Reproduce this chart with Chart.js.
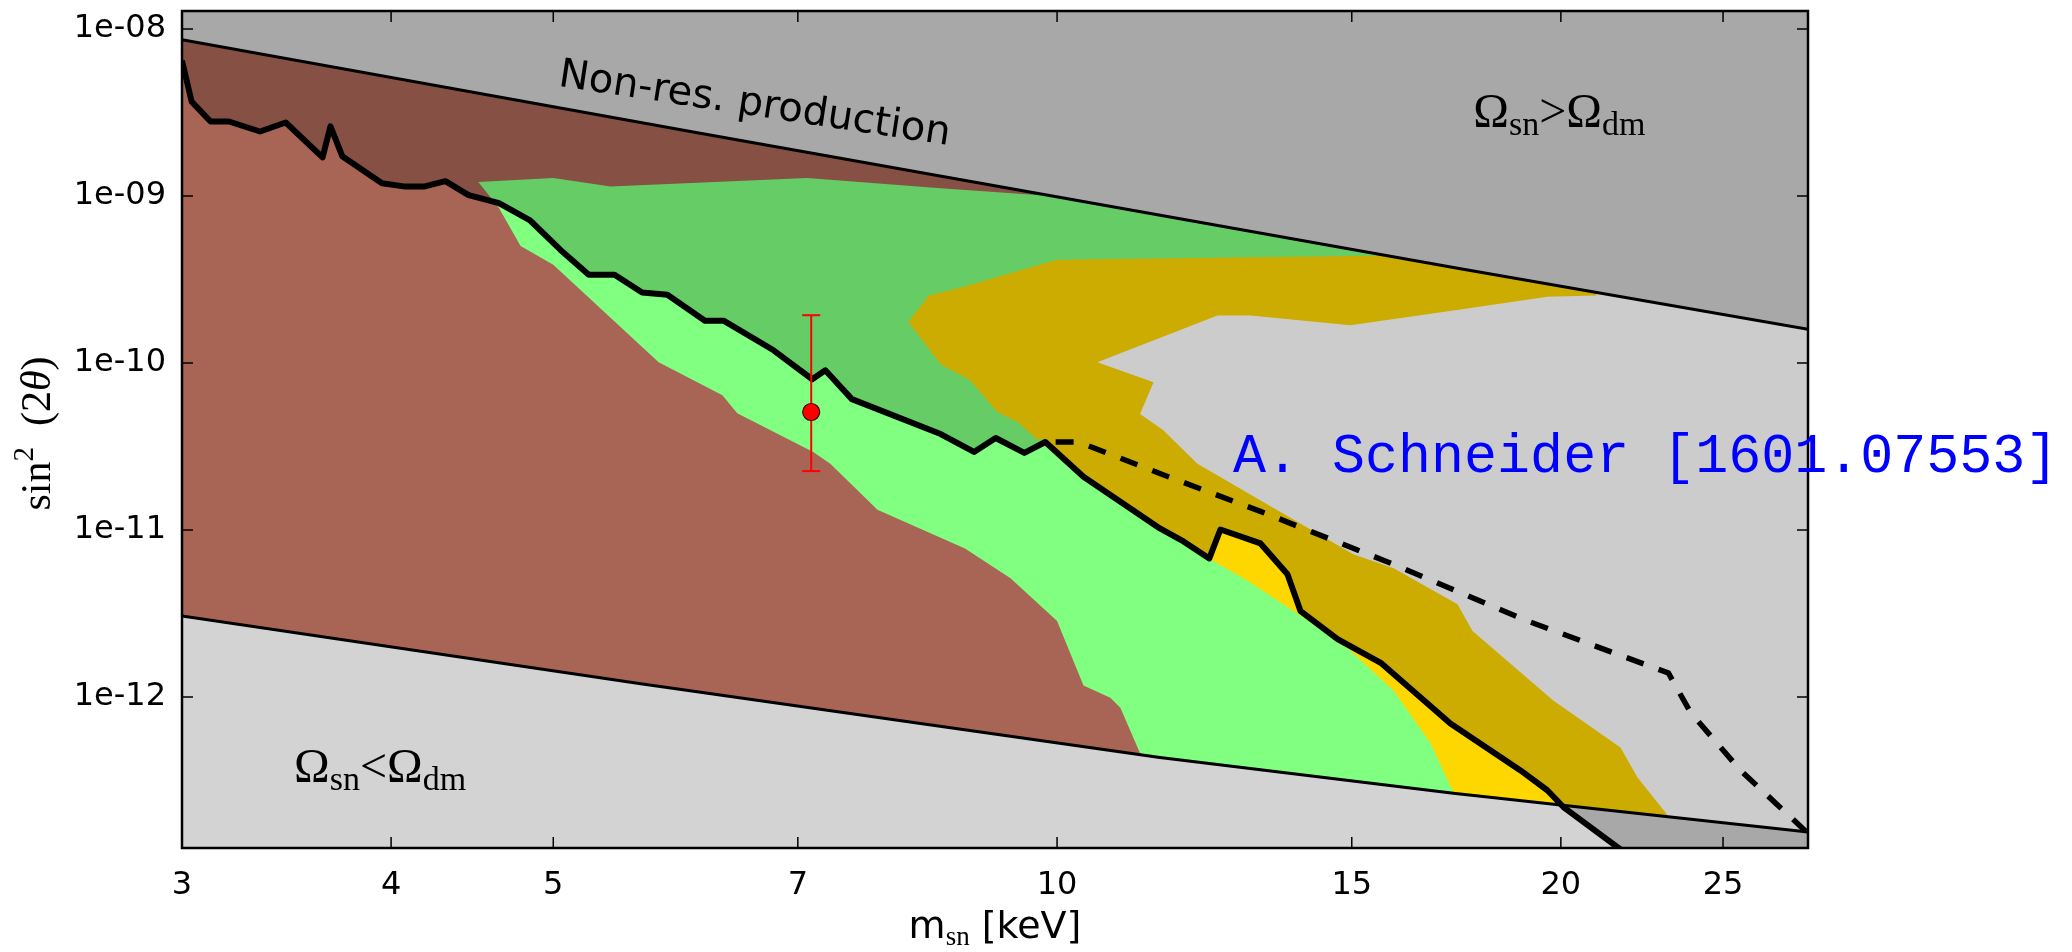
<!DOCTYPE html>
<html>
<head>
<meta charset="utf-8">
<title>Sterile neutrino parameter space</title>
<script src="https://cdn.jsdelivr.net/npm/chart.js@4.4.1/dist/chart.umd.min.js"></script>
<style>
  html, body { margin: 0; padding: 0; background: #ffffff; }
  canvas { display: block; }
</style>
</head>
<body>
<canvas id="chart" width="2072" height="952"></canvas>
<script>
// Axis ranges and tick marks (m_sn in keV, sin^2(2 theta))
const xMin = 3, xMax = 28.1;
const yMin = 1.245e-13, yMax = 1.28e-8;
const xTicks = [3, 4, 5, 7, 10, 15, 20, 25];
const yTicks = [1e-8, 1e-9, 1e-10, 1e-11, 1e-12];
const yTickLabels = ['1e-08', '1e-09', '1e-10', '1e-11', '1e-12'];

// Omega_sn = Omega_dm lines (non-resonant production band)
const omegaUpper = [[3, 8.6e-9], [6.12, 2.37e-9], [17.42, 3.66e-10], [28.1, 1.59e-10]];
const omegaLower = [[3, 3.05e-12], [5.64, 1.2e-12], [11.52, 4.34e-13], [17.25, 2.65e-13], [19.99, 2.25e-13], [28.1, 1.55e-13]];

// X-ray bound (thick solid line), everything above it is shaded darker
const xrayBound = [
  [3.00, 6.45e-9], [3.04, 3.67e-9], [3.12, 2.79e-9], [3.20, 2.79e-9], [3.34, 2.43e-9],
  [3.46, 2.75e-9], [3.64, 1.70e-9], [3.68, 2.61e-9], [3.74, 1.73e-9], [3.95, 1.19e-9],
  [4.07, 1.14e-9], [4.19, 1.14e-9], [4.31, 1.225e-9], [4.45, 1.01e-9], [4.64, 9.06e-10],
  [4.84, 7.17e-10], [5.05, 4.75e-10], [5.25, 3.37e-10], [5.44, 3.37e-10], [5.65, 2.64e-10],
  [5.85, 2.56e-10], [6.16, 1.79e-10], [6.32, 1.79e-10], [6.77, 1.19e-10], [7.14, 7.98e-11],
  [7.27, 9.03e-11], [7.54, 6.07e-11], [8.52, 3.75e-11], [8.92, 2.93e-11], [9.19, 3.55e-11],
  [9.56, 2.89e-11], [9.84, 3.36e-11], [10.37, 2.08e-11], [11.52, 1.02e-11], [11.90, 8.53e-12],
  [12.33, 6.75e-12], [12.52, 1.005e-11], [13.23, 8.30e-12], [13.73, 5.42e-12], [13.98, 3.26e-12],
  [14.71, 2.22e-12], [15.61, 1.60e-12], [17.18, 6.92e-13], [18.92, 3.63e-13], [19.63, 2.76e-13],
  [20.07, 2.19e-13], [21.62, 1.26e-13], [28.1, 1.8e-14]
];

// A. Schneider bound (dashed)
const schneiderBound = [
  [9.98, 3.36e-11], [10.30, 3.36e-11], [11.57, 2.14e-11], [13.23, 1.29e-11], [15.89, 6.22e-12],
  [19.10, 2.85e-12], [23.19, 1.39e-12], [23.91, 8.05e-13], [25.61, 3.63e-13], [28.01, 1.57e-13]
];

// Filled regions (outlines)
const brownRegion = [
  [3, 5e-8], [9.84, 5e-8], [9.84, 2.3e-10], [5.33, 9.06e-10], [5.19, 3.87e-10], [6.04, 1.01e-10],
  [6.74, 5.0e-11], [7.63, 2.49e-11], [8.11, 1.32e-11], [9.12, 7.75e-12], [10.33, 2.85e-12],
  [10.69, 1.17e-12], [11.21, 8.62e-13], [11.69, 2.41e-13], [11.69, 1e-14], [3, 1e-14]
];
const greenRegion = [
  [4.51, 1.21e-9], [5.00, 1.28e-9], [5.41, 1.14e-9], [7.09, 1.28e-9], [8.52, 1.11e-9], [9.77, 1.01e-9],
  [10.61, 1.8e-9], [15.61, 9.06e-10], [15.61, 3.02e-10], [10.05, 2.3e-10], [10.05, 5.82e-11],
  [11.37, 2.23e-11], [14.57, 4.93e-12], [16.49, 1.88e-12], [17.67, 7.21e-13], [18.41, 8.0e-14],
  [11.37, 8.0e-14], [11.37, 2.76e-13], [11.21, 4.59e-13], [10.91, 8.62e-13], [10.76, 9.89e-13],
  [10.37, 1.17e-12], [10.00, 2.85e-12], [9.38, 5.13e-12], [8.81, 7.75e-12], [7.81, 1.32e-11],
  [7.32, 2.49e-11], [7.15, 2.93e-11], [6.44, 5.0e-11], [6.31, 6.41e-11], [5.78, 1.01e-10],
  [5.00, 3.87e-10], [4.78, 5.02e-10], [4.64, 8.46e-10]
];
const goldRegion = [
  [8.15, 1.75e-10], [8.38, 2.53e-10], [8.75, 2.82e-10], [10.0, 4.14e-10], [15.45, 4.38e-10],
  [21.1, 3.98e-10], [21.0, 2.53e-10], [19.63, 2.49e-10], [17.42, 2.09e-10], [14.97, 1.68e-10],
  [13.05, 1.92e-10], [12.47, 1.92e-10], [10.57, 1.01e-10], [11.42, 7.66e-11], [11.21, 4.94e-11],
  [11.57, 3.97e-11], [12.13, 2.49e-11], [15.03, 7.14e-12], [15.89, 5.89e-12], [17.35, 3.59e-12],
  [17.71, 2.48e-12], [19.80, 9.49e-13], [21.71, 4.98e-13], [22.22, 3.30e-13], [23.16, 1.96e-13],
  [23.58, 8e-14], [17.18, 8e-14], [17.25, 2.69e-13], [16.72, 5.26e-13], [15.89, 1.09e-12],
  [14.91, 1.96e-12], [13.94, 3.13e-12], [13.01, 4.93e-12], [12.35, 6.66e-12], [11.90, 8.77e-12],
  [11.52, 1.06e-11], [10.37, 2.17e-11], [9.84, 3.5e-11], [9.73, 3.46e-11], [9.47, 4.43e-11],
  [9.21, 5.08e-11], [8.87, 7.88e-11], [8.52, 9.81e-11]
];

// 3.5 keV line detection with error bar
const lineMass = 7.13;
const lineMix = 5.08e-11;
const lineMixLow = 2.25e-11;
const lineMixHigh = 1.93e-10;

const toXY = (pairs) => pairs.map(([x, y]) => ({ x, y }));

function region(label, pairs, color, order) {
  return {
    label,
    data: toXY(pairs),
    backgroundColor: color,
    borderColor: 'rgba(0,0,0,0)',
    borderWidth: 0,
    pointRadius: 0,
    fill: 'shape',
    order,
    clip: 0
  };
}

// Axis frame, inward ticks, axis titles and text labels
const decorations = {
  id: 'decorations',
  afterDraw(chart) {
    const { ctx, chartArea: a, scales: { x, y } } = chart;
    ctx.save();

    ctx.strokeStyle = '#000';
    ctx.lineWidth = 1.5;
    ctx.beginPath();
    xTicks.forEach((v) => {
      const px = x.getPixelForValue(v);
      ctx.moveTo(px, a.bottom); ctx.lineTo(px, a.bottom - 11);
      ctx.moveTo(px, a.top); ctx.lineTo(px, a.top + 11);
    });
    yTicks.forEach((v) => {
      const py = y.getPixelForValue(v);
      ctx.moveTo(a.left, py); ctx.lineTo(a.left + 11, py);
      ctx.moveTo(a.right, py); ctx.lineTo(a.right - 11, py);
    });
    ctx.stroke();

    ctx.lineWidth = 2.5;
    ctx.strokeRect(a.left, a.top, a.right - a.left, a.bottom - a.top);

    ctx.fillStyle = '#000';
    ctx.textBaseline = 'alphabetic';
    ctx.textAlign = 'left';

    // draws a run of text pieces [text, font, dy], returns width
    const runWidth = (parts) => parts.reduce((w, [t, f]) => { ctx.font = f; return w + ctx.measureText(t).width; }, 0);
    const drawRun = (parts, x0, y0) => {
      let cx = x0;
      parts.forEach(([t, f, dy]) => { ctx.font = f; ctx.fillText(t, cx, y0 + (dy || 0)); cx += ctx.measureText(t).width; });
    };

    // "Non-res. production" along the upper line
    ctx.save();
    ctx.translate(x.getPixelForValue(5.03), y.getPixelForValue(4.57e-9));
    ctx.rotate(0.151);
    ctx.font = '40px "DejaVu Sans"';
    ctx.fillText('Non-res. production', 0, 0);
    ctx.restore();

    // Omega labels
    const big = '48px "Liberation Serif"';
    const sub = '34px "Liberation Serif"';
    drawRun([['\u03A9', big, 0], ['sn', sub, 8], ['>', big, 0], ['\u03A9', big, 0], ['dm', sub, 8]],
      x.getPixelForValue(17.73), y.getPixelForValue(2.57e-9));
    drawRun([['\u03A9', big, 0], ['sn', sub, 8], ['<', big, 0], ['\u03A9', big, 0], ['dm', sub, 8]],
      x.getPixelForValue(3.5), y.getPixelForValue(3.08e-13));

    // reference label
    ctx.fillStyle = '#0000ff';
    ctx.font = '55px "Liberation Mono"';
    ctx.fillText('A. Schneider [1601.07553]', x.getPixelForValue(12.74), y.getPixelForValue(2.23e-11));
    ctx.fillStyle = '#000';

    // x axis title
    const xTitle = [['m', '38px "DejaVu Sans"', 0], ['sn', '27px "Liberation Serif"', 7], [' [keV]', '38px "DejaVu Sans"', 0]];
    drawRun(xTitle, (a.left + a.right) / 2 - runWidth(xTitle) / 2, a.bottom + 90);

    // y axis title
    const yTitle = [['sin', '42px "Liberation Serif"', 0], ['2', '29px "Liberation Serif"', -17], ['  (2', '42px "Liberation Serif"', 0],
      ['\u03B8', 'italic 42px "Liberation Serif"', 0], [')', '42px "Liberation Serif"', 0]];
    ctx.save();
    ctx.translate(50, (a.top + a.bottom) / 2 + 4);
    ctx.rotate(-Math.PI / 2);
    drawRun(yTitle, -runWidth(yTitle) / 2, 0);
    ctx.restore();

    ctx.restore();
  }
};

new Chart(document.getElementById('chart'), {
  type: 'line',
  data: {
    datasets: [
      region('excluded (structure)', brownRegion, '#a86555', 20),
      region('allowed (green)', greenRegion, '#80ff80', 19),
      region('allowed (gold)', goldRegion, '#ffd700', 18),
      {
        label: 'Omega upper', data: toXY(omegaUpper), fill: 'end', backgroundColor: '#d3d3d3',
        borderColor: '#000', borderWidth: 3, pointRadius: 0, order: 17, clip: 0
      },
      {
        label: 'Omega lower', data: toXY(omegaLower), fill: 'start', backgroundColor: '#d3d3d3',
        borderColor: '#000', borderWidth: 3, pointRadius: 0, order: 16, clip: 0
      },
      {
        label: 'X-ray bound', data: toXY(xrayBound), fill: 'end', backgroundColor: 'rgba(0,0,0,0.2)',
        borderColor: '#000', borderWidth: 6, borderJoinStyle: 'round', pointRadius: 0, order: 15, clip: 0
      },
      {
        label: 'Schneider', data: toXY(schneiderBound), fill: false, borderColor: '#000', borderWidth: 5.5,
        borderDash: [18, 16], pointRadius: 0, order: 14, clip: 0
      },
      {
        label: 'error bar', data: [{ x: lineMass, y: lineMixLow }, { x: lineMass, y: lineMixHigh }], fill: false,
        borderColor: '#ff0000', borderWidth: 2, pointStyle: 'line', pointRadius: 9,
        pointBorderColor: '#ff0000', pointBorderWidth: 2, order: 13
      },
      {
        label: '3.5 keV line', data: [{ x: lineMass, y: lineMix }], showLine: false,
        pointRadius: 8.5, pointBackgroundColor: '#ff0000', pointBorderColor: '#440000', pointBorderWidth: 1.2, order: 12
      }
    ]
  },
  options: {
    responsive: false,
    animation: false,
    events: [],
    layout: { padding: { left: 0, right: 264, top: 7, bottom: 0 } },
    plugins: { legend: { display: false }, tooltip: { enabled: false } },
    scales: {
      x: {
        type: 'logarithmic', min: xMin, max: xMax,
        grid: { display: false }, border: { display: false },
        afterBuildTicks: (scale) => { scale.ticks = xTicks.map((v) => ({ value: v })); },
        afterFit: (scale) => { scale.height = 104; scale.paddingLeft = 0; scale.paddingRight = 0; },
        ticks: {
          autoSkip: false, maxRotation: 0, minRotation: 0, padding: 10, color: '#000',
          font: { family: 'DejaVu Sans', size: 32 },
          callback: (value) => String(value)
        }
      },
      y: {
        type: 'logarithmic', min: yMin, max: yMax,
        grid: { display: false }, border: { display: false },
        afterBuildTicks: (scale) => { scale.ticks = yTicks.map((v) => ({ value: v })); },
        afterFit: (scale) => { scale.width = 182; scale.paddingTop = 0; scale.paddingBottom = 0; },
        ticks: {
          autoSkip: false, padding: 8, color: '#000',
          font: { family: 'DejaVu Sans', size: 32 },
          callback: (value) => { const i = yTicks.indexOf(value); return i >= 0 ? yTickLabels[i] : ''; }
        }
      }
    }
  },
  plugins: [decorations]
});
</script>
</body>
</html>
